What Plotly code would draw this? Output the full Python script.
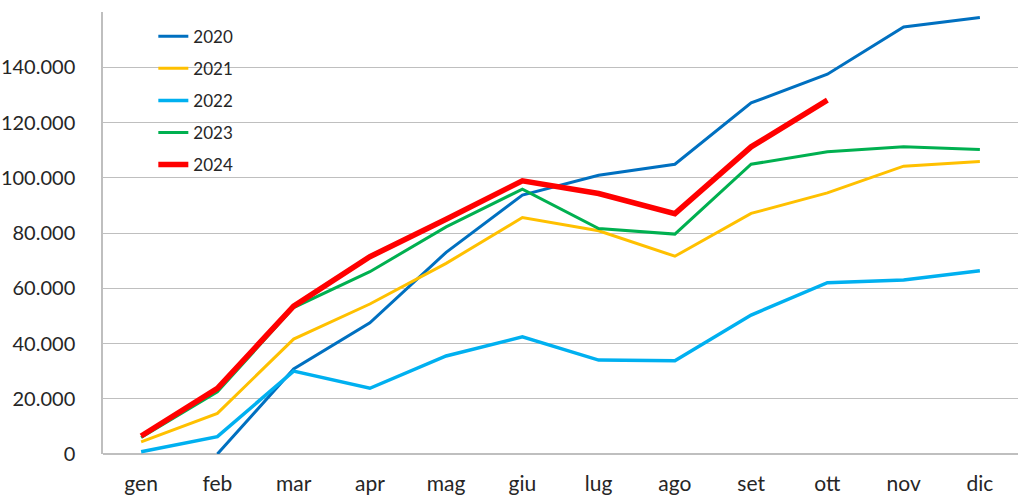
import plotly.graph_objects as go

months = ["gen", "feb", "mar", "apr", "mag", "giu", "lug", "ago", "set", "ott", "nov", "dic"]
y2020 = [None, 0, 30800, 47500, 73000, 93700, 100900, 104900, 127100, 137500, 154600, 158000]
y2021 = [4400, 14700, 41600, 54300, 69000, 85600, 80800, 71600, 87100, 94500, 104200, 105900]
y2022 = [800, 6300, 30000, 23800, 35500, 42400, 34000, 33800, 50300, 62000, 63000, 66300]
y2023 = [6000, 22500, 53000, 66000, 82200, 95900, 81600, 79600, 104900, 109400, 111200, 110200]
y2024 = [6500, 23800, 53500, 71400, 85000, 98900, 94300, 87000, 111200, 128100]
tick_vals = [0, 20000, 40000, 60000, 80000, 100000, 120000, 140000]
tick_text = ["0", "20.000", "40.000", "60.000", "80.000", "100.000", "120.000", "140.000"]

series = [
    ("2020", y2020, "#0070C0", 3),
    ("2021", y2021, "#FFC000", 3),
    ("2022", y2022, "#00B0F0", 3.5),
    ("2023", y2023, "#00B050", 3),
    ("2024", y2024, "#FF0000", 5.5),
]

fig = go.Figure()
for name, ys, color, w in series:
    fig.add_trace(go.Scatter(
        x=months[:len(ys)], y=ys, name=name, mode="lines",
        line=dict(color=color, width=w),
        legendgroup=name, connectgaps=False,
    ))

font = dict(family="Lato, 'Open Sans', sans-serif", size=20, color="#262626")
fig.update_layout(
    width=1024, height=500,
    margin=dict(l=103, r=6, t=12, b=46, autoexpand=False),
    paper_bgcolor="white", plot_bgcolor="white",
    font=font,
    showlegend=True,
    legend=dict(x=0.055, y=0.985, xanchor="left", yanchor="top",
                bgcolor="rgba(0,0,0,0)", font=dict(size=17, color="#262626"),
                tracegroupgap=7, itemwidth=30),
    xaxis=dict(type="category", categoryorder="array", categoryarray=months,
               range=[-0.5, 11.5], showgrid=False, showline=False,
               ticks="", ticklabelstandoff=15, zeroline=False, automargin=False,
               tickfont=dict(size=21, color="#262626")),
    yaxis=dict(range=[0, 160000], tickvals=tick_vals, ticktext=tick_text,
               showgrid=True, gridcolor="#BFBFBF", gridwidth=1.2,
               showline=True, linecolor="#BFBFBF", linewidth=1.5,
               zeroline=True, zerolinecolor="#BFBFBF", zerolinewidth=1.5,
               ticks="", ticklabelstandoff=22, automargin=False,
               tickfont=dict(size=20, color="#262626")),
)

fig.write_html("out.html")
